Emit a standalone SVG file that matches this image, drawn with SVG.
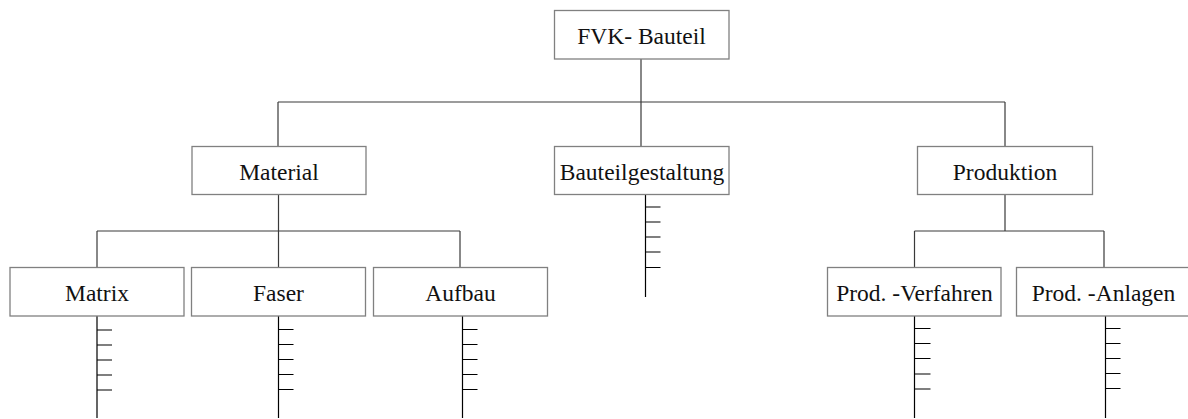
<svg xmlns="http://www.w3.org/2000/svg" width="1188" height="419" viewBox="0 0 1188 419">
  <style>
    .box { fill: #ffffff; stroke: #808080; stroke-width: 1.3; }
    .lbl { font-family: "Liberation Serif", "Times New Roman", serif; font-size: 23.5px; fill: #111111; text-anchor: middle; }
    .link { fill: none; stroke: #3a3a3a; stroke-width: 1.2; }
    .spine { fill: none; stroke: #000000; stroke-width: 1.2; }
  </style>
  <rect width="1188" height="419" fill="#ffffff"/>

  <!-- connectors between levels -->
  <g id="connectors">
    <path class="link" d="M641,59 V102 M278,102 H1005 M278,102 V146.5 M641,102 V146.5 M1005,102 V146.5"/>
    <path class="link" d="M278.5,194.5 V231 M97,231 H460 M97,231 V267.5 M278.5,231 V267.5 M460,231 V267.5"/>
    <path class="link" d="M1005,194.5 V231 M914.5,231 H1104 M914.5,231 V267.5 M1104,231 V267.5"/>
  </g>

  <!-- sub-item spines with tick marks -->
  <g id="spines">
    <path class="spine" d="M645.5,194.5 V297 M645.5,207 h15 M645.5,222 h15 M645.5,237 h15 M645.5,252 h15 M645.5,267.5 h15"/>
    <path class="spine" d="M97,316 V418 M97,330 h15 M97,345 h15 M97,360 h15 M97,375 h15 M97,390 h15"/>
    <path class="spine" d="M278.5,316 V418 M278.5,329.5 h15 M278.5,344.5 h15 M278.5,359.5 h15 M278.5,374.5 h15 M278.5,389.5 h15"/>
    <path class="spine" d="M462.5,316 V418 M462.5,329.5 h15 M462.5,344.5 h15 M462.5,359.5 h15 M462.5,374.5 h15 M462.5,389.5 h15"/>
    <path class="spine" d="M914.5,316 V418 M914.5,328.5 h16 M914.5,343.5 h16 M914.5,358.5 h16 M914.5,374 h16 M914.5,389 h16"/>
    <path class="spine" d="M1105.5,316 V418 M1105.5,328.5 h15 M1105.5,343.5 h15 M1105.5,358.5 h15 M1105.5,373.5 h15 M1105.5,388.5 h15"/>
  </g>

  <g id="fvk-bauteil">
    <rect class="box" x="554.5" y="10.5" width="174.5" height="48.5"/>
    <text class="lbl" x="641.5" y="44">FVK- Bauteil</text>
  </g>
  <g id="material">
    <rect class="box" x="192" y="146.5" width="174" height="48"/>
    <text class="lbl" x="279" y="179.5">Material</text>
  </g>
  <g id="bauteilgestaltung">
    <rect class="box" x="554.5" y="146.5" width="174.5" height="48"/>
    <text class="lbl" x="642" y="179.5">Bauteilgestaltung</text>
  </g>
  <g id="produktion">
    <rect class="box" x="917.5" y="146.5" width="175" height="48"/>
    <text class="lbl" x="1005" y="179.5">Produktion</text>
  </g>
  <g id="matrix">
    <rect class="box" x="10" y="267.5" width="174" height="48.5"/>
    <text class="lbl" x="97" y="300.5">Matrix</text>
  </g>
  <g id="faser">
    <rect class="box" x="191.5" y="267.5" width="174" height="48.5"/>
    <text class="lbl" x="278.5" y="300.5">Faser</text>
  </g>
  <g id="aufbau">
    <rect class="box" x="373.5" y="267.5" width="174" height="48.5"/>
    <text class="lbl" x="460.5" y="300.5">Aufbau</text>
  </g>
  <g id="prod-verfahren">
    <rect class="box" x="827.5" y="267.5" width="173.5" height="48.5"/>
    <text class="lbl" x="914.5" y="300.5">Prod. -Verfahren</text>
  </g>
  <g id="prod-anlagen">
    <rect class="box" x="1016.5" y="267.5" width="174" height="48.5"/>
    <text class="lbl" x="1103.5" y="300.5">Prod. -Anlagen</text>
  </g>
</svg>
